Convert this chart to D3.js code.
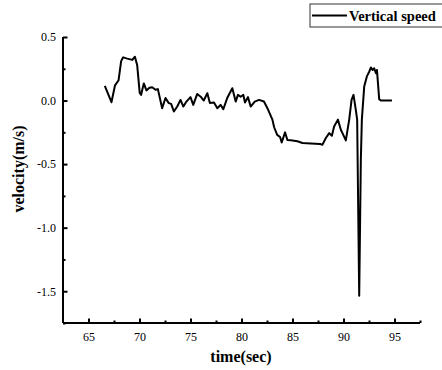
<!DOCTYPE html>
<meta charset="utf-8">
<style>
    body { margin: 0; background: #fff; }
    text { font-family: "Liberation Serif", "Times New Roman", serif; }
</style>
<body>
<script src="https://cdn.jsdelivr.net/npm/d3@7"></script>
<script>
// data
var times = [66.6, 67.25, 67.6, 67.95, 68.2, 68.4, 68.8, 69.3, 69.55, 69.77, 70.02, 70.16, 70.42, 70.68, 70.98, 71.24, 71.57, 71.8,
    72.22, 72.55, 72.87, 73.1, 73.37, 73.7, 74.02, 74.3, 74.6, 75.0, 75.27, 75.66, 76.0, 76.3, 76.65, 76.9, 77.3, 77.63, 77.95,
    78.22, 78.6, 79.1, 79.43, 79.65, 79.92, 80.18, 80.34, 80.63, 80.9, 81.3, 81.72, 82.2, 82.54, 83.03, 83.2, 83.5, 83.78, 83.94,
    84.27, 84.5, 84.83, 85.48, 85.98, 86.8, 87.7, 87.94, 88.27, 88.6, 88.86, 89.08, 89.45, 89.74, 89.9, 90.23, 90.56, 90.79,
    90.98, 91.2, 91.34, 91.54, 91.7, 91.8, 92.03, 92.29, 92.52, 92.69, 92.85, 93.01, 93.18, 93.28, 93.5, 93.67, 94.2, 94.75];
var speeds = [0.115, -0.013, 0.12, 0.16, 0.31, 0.34, 0.33, 0.32, 0.345, 0.28, 0.06, 0.045, 0.135, 0.08, 0.1, 0.105, 0.085, 0.09,
    -0.06, 0.02, -0.02, -0.026, -0.086, -0.047, 0.005, -0.047, -0.008, 0.027, -0.034, 0.052, 0.03, 0, 0.058, -0.02, -0.015, -0.06, -0.034,
    -0.068, 0.02, 0.097, -0.008, 0.045, 0.03, 0.045, -0.015, 0.027, -0.047, -0.008, 0.005, -0.008, -0.06, -0.15, -0.21, -0.27, -0.287, -0.33,
    -0.25, -0.31, -0.313, -0.32, -0.334, -0.337, -0.342, -0.347, -0.295, -0.256, -0.277, -0.204, -0.15, -0.23, -0.256, -0.313, -0.15, 0.005,
    0.045, -0.07, -0.15, -1.536, -0.466, -0.15, 0.11, 0.19, 0.227, 0.26, 0.24, 0.254, 0.215, 0.24, 0.011, 0, 0, 0];
var xTicks = [65, 70, 75, 80, 85, 90, 95];
var xMinor = [67.5, 72.5, 77.5, 82.5, 87.5, 92.5, 97.5];
var yTicks = [0.5, 0.0, -0.5, -1.0, -1.5];
var yMinor = [0.25, -0.25, -0.75, -1.25, -1.75];
var seriesName = "Vertical speed";

var width = 442, height = 370;
var mLeft = 63, mRight = 420, mTop = 37, mBottom = 323;

var x = d3.scaleLinear().domain([62.5, 97.5]).range([mLeft, mRight]);
var y = d3.scaleLinear().domain([-1.75, 0.5]).range([mBottom, mTop]);

var svg = d3.select("body").append("svg")
    .attr("width", width)
    .attr("height", height);

var data = times.map(function(t, i) { return {t: t, v: speeds[i]}; });

//plain hyphen for negatives, like the original
var yFmt = function(d) { return d3.format(".1f")(d).replace("\u2212", "-"); };

//axes, ticks pointing inward
var gx = svg.append("g").attr("transform", "translate(0," + mBottom + ")")
    .call(d3.axisBottom(x).tickValues(xTicks).tickSize(-4.5).tickPadding(9)
        .tickFormat(d3.format("d")));
svg.append("g").attr("transform", "translate(0," + mBottom + ")")
    .call(d3.axisBottom(x).tickValues(xMinor).tickSize(-2.5).tickFormat(""))
    .select(".domain").remove();

var gy = svg.append("g").attr("transform", "translate(" + mLeft + ",0)")
    .call(d3.axisLeft(y).tickValues(yTicks).tickSize(-4.5).tickPadding(7)
        .tickFormat(yFmt));
svg.append("g").attr("transform", "translate(" + mLeft + ",0)")
    .call(d3.axisLeft(y).tickValues(yMinor).tickSize(-2.5).tickFormat(""))
    .select(".domain").remove();

svg.selectAll("g").attr("font-family", "Liberation Serif").attr("font-size", 12);
svg.selectAll(".domain").attr("stroke", "#000").attr("stroke-width", 2);
svg.selectAll(".tick line").attr("stroke", "#000").attr("stroke-width", 2);
svg.selectAll(".tick text")
    .style("font-family", "'Liberation Serif', serif")
    .style("font-size", "12px")
    .attr("fill", "#000");
gx.selectAll(".domain").attr("d", "M" + mLeft + ",0H" + mRight);
gy.selectAll(".domain").attr("d", "M0," + mTop + "V" + mBottom);

//line
var line = d3.line()
    .x(function(d) { return x(d.t); })
    .y(function(d) { return y(d.v); });

svg.append("path")
    .datum(data)
    .attr("d", line)
    .attr("fill", "none")
    .attr("stroke", "#000")
    .attr("stroke-width", 2)
    .attr("stroke-linejoin", "round");

//axis titles
svg.append("text")
    .attr("x", 241)
    .attr("y", 362)
    .attr("text-anchor", "middle")
    .style("font-size", "16px")
    .style("font-weight", "bold")
    .text("time(sec)");

svg.append("text")
    .attr("transform", "translate(24,169) rotate(-90)")
    .attr("text-anchor", "middle")
    .style("font-size", "16px")
    .style("font-weight", "bold")
    .text("velocity(m/s)");

//legend
var legend = svg.append("g");
legend.append("rect")
    .attr("x", 310)
    .attr("y", 4)
    .attr("width", 140)
    .attr("height", 23)
    .attr("fill", "#fff")
    .attr("stroke", "#333")
    .attr("stroke-width", 1);
legend.append("line")
    .attr("x1", 312).attr("x2", 347)
    .attr("y1", 15.5).attr("y2", 15.5)
    .attr("stroke", "#000")
    .attr("stroke-width", 2);
legend.append("text")
    .attr("x", 349)
    .attr("y", 20.5)
    .style("font-size", "14.5px")
    .style("font-weight", "bold")
    .text(seriesName);
</script>
</body>
